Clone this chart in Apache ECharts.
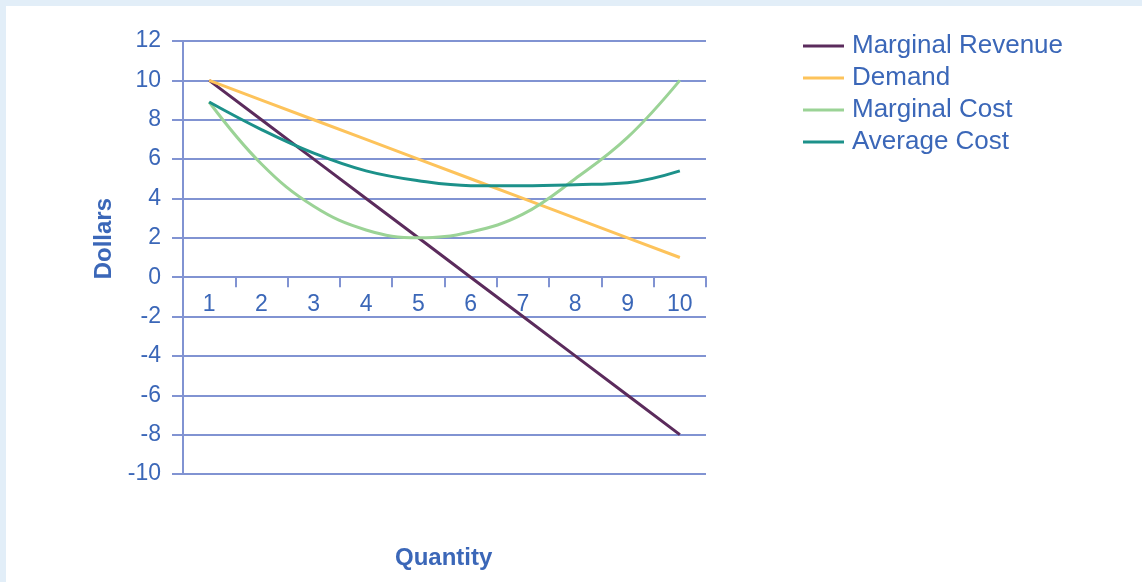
<!DOCTYPE html>
<html>
<head>
<meta charset="utf-8">
<script src="https://cdn.jsdelivr.net/npm/echarts@6/dist/echarts.min.js"></script>
<style>
  html, body { margin: 0; padding: 0; }
  body { width: 1142px; height: 582px; background: #e2eef8; position: relative; overflow: hidden; }
  #panel { position: absolute; left: 6px; top: 6px; width: 1136px; height: 576px; background: #ffffff; }
  #chart { position: absolute; left: 0; top: 0; width: 1142px; height: 582px; }
</style>
</head>
<body>
<div id="panel"></div>
<div id="chart"></div>
<script>
const quantities = ['1', '2', '3', '4', '5', '6', '7', '8', '9', '10'];
const marginalRevenue = [10, 8, 6, 4, 2, 0, -2, -4, -6, -8];
const demand = [10, 9, 8, 7, 6, 5, 4, 3, 2, 1];
const marginalCost = [8.9, 5.75, 3.6, 2.4, 2.0, 2.3, 3.2, 5.0, 7.1, 10];
const averageCost = [8.9, 7.5, 6.3, 5.4, 4.9, 4.65, 4.65, 4.7, 4.8, 5.4];
const yTicks = { min: -10, max: 12, interval: 2 };

const textColor = '#3b67b8';
const gridColor = '#8193d2';
const font = '"Liberation Sans", Arial, sans-serif';

const gridTop = 41, gridBottom = 108, plotHeight = 582 - gridTop - gridBottom;
// distance from bottom of plot to the zero line, via the value scale
const zeroOffset = plotHeight * (0 - yTicks.min) / (yTicks.max - yTicks.min);

const chart = echarts.init(document.getElementById('chart'), null, { renderer: 'canvas' });
chart.setOption({
  backgroundColor: 'transparent',
  animation: false,
  grid: { left: 183, right: 436, top: gridTop, bottom: gridBottom, containLabel: false },
  legend: {
    orient: 'vertical',
    left: 798,
    top: 28,
    itemWidth: 41,
    itemHeight: 3,
    itemGap: 6,
    icon: 'rect',
    textStyle: { color: textColor, fontSize: 26, fontFamily: font, lineHeight: 26, padding: [0, 0, 0, 3] },
    data: ['Marginal Revenue', 'Demand', 'Marginal Cost', 'Average Cost']
  },
  xAxis: {
    type: 'category',
    data: quantities,
    boundaryGap: true,
    position: 'bottom',
    offset: -zeroOffset,
    axisLine: { onZero: false, lineStyle: { color: gridColor, width: 2 } },
    axisTick: { show: true, length: 10, lineStyle: { color: gridColor, width: 2 } },
    axisLabel: { color: textColor, fontSize: 23, fontFamily: font, margin: 16 },
    splitLine: { show: false }
  },
  yAxis: {
    type: 'value',
    min: yTicks.min,
    max: yTicks.max,
    interval: yTicks.interval,
    axisLine: { show: true, onZero: false, lineStyle: { color: gridColor, width: 2 } },
    axisTick: { show: true, length: 11, lineStyle: { color: gridColor, width: 2 } },
    axisLabel: { color: textColor, fontSize: 23, fontFamily: font, margin: 22 },
    splitLine: { show: true, lineStyle: { color: gridColor, width: 2 } }
  },
  graphic: [
    {
      type: 'text',
      left: 92, top: 198,
      rotation: Math.PI / 2,
      style: { text: 'Dollars', fill: textColor, font: 'bold 24px ' + font }
    },
    {
      type: 'text',
      left: 395, top: 546,
      style: { text: 'Quantity', fill: textColor, font: 'bold 24px ' + font }
    }
  ],
  series: [
    { name: 'Marginal Revenue', type: 'line', data: marginalRevenue, symbol: 'none', color: '#5b2b5c', lineStyle: { width: 3 } },
    { name: 'Demand', type: 'line', data: demand, symbol: 'none', color: '#fdc35b', lineStyle: { width: 3 } },
    { name: 'Marginal Cost', type: 'line', data: marginalCost, symbol: 'none', smooth: 0.4, color: '#9bd396', lineStyle: { width: 3 } },
    { name: 'Average Cost', type: 'line', data: averageCost, symbol: 'none', smooth: 0.4, color: '#1c918a', lineStyle: { width: 3 } }
  ]
});
</script>
</body>
</html>
